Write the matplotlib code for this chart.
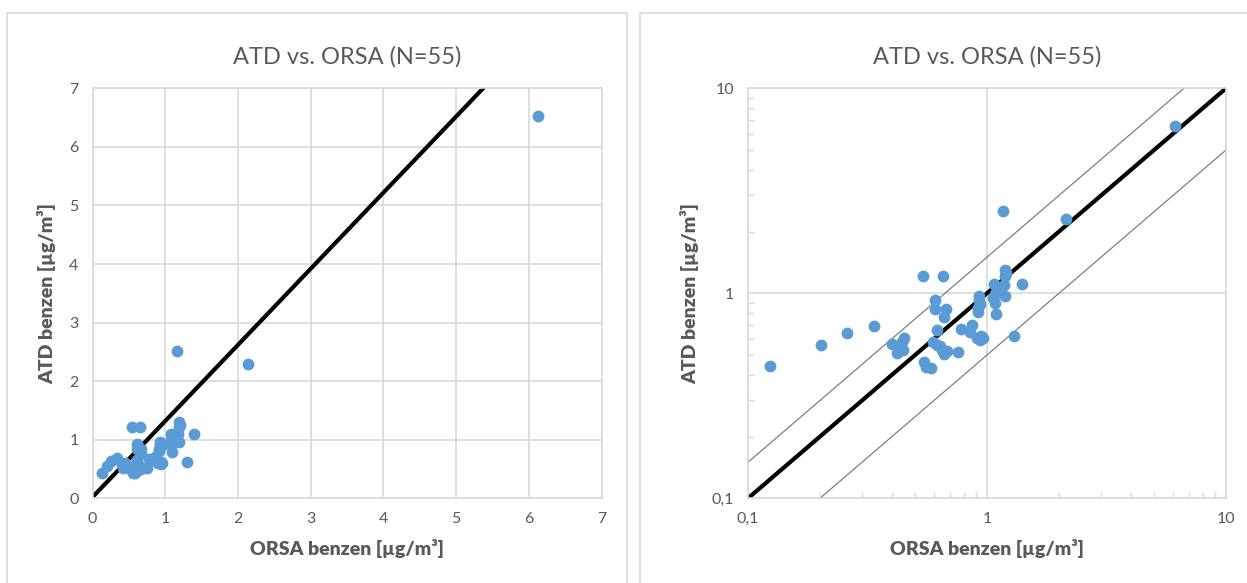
import matplotlib
matplotlib.use("Agg")
import matplotlib.pyplot as plt
from matplotlib.patches import Rectangle
from matplotlib.ticker import FixedLocator, FuncFormatter, LogLocator, NullFormatter
import numpy as np

plt.rcParams['font.family'] = ['Lato', 'DejaVu Sans']

# Data: ORSA benzene (x) vs ATD benzene (y), µg/m³
orsa = [0.124, 0.203, 0.259, 0.337, 0.538, 0.653, 0.402, 0.451, 0.42, 0.447,
        0.43, 0.545, 0.556, 0.581, 0.608, 0.608, 0.673, 0.661, 0.618, 0.596,
        0.636, 0.661, 0.682, 0.754, 0.776, 0.863, 0.85, 0.905, 0.96, 0.935,
        0.926, 0.935, 0.92, 1.074, 1.08, 1.08, 1.09, 1.19, 1.19, 1.178,
        1.19, 1.397, 1.297, 1.167, 2.14, 6.12, 0.62, 0.93, 1.06, 1.10,
        0.92, 1.20, 0.65, 0.44, 0.94]
atd = [0.44, 0.557, 0.638, 0.696, 1.21, 1.21, 0.569, 0.608, 0.512, 0.531,
       0.55, 0.462, 0.437, 0.431, 0.925, 0.838, 0.84, 0.766, 0.66, 0.579,
       0.551, 0.508, 0.521, 0.52, 0.672, 0.698, 0.647, 0.608, 0.608, 0.59,
       0.967, 0.891, 0.811, 1.106, 0.997, 0.897, 0.796, 1.30, 1.21, 1.10,
       0.967, 1.106, 0.617, 2.51, 2.30, 6.53, 0.56, 0.93, 0.95, 1.05,
       0.85, 1.25, 0.53, 0.58, 0.62]

title = "ATD vs. ORSA (N=55)"
xlabel = "ORSA benzen [µg/m³]"
ylabel = "ATD benzen [µg/m³]"

# Left chart trend line (slope, intercept)
trend_slope = 1.3
trend_intercept = 0.02
# Right chart reference lines: ratios
ref_ratios = [1.0, 1.5, 0.5]

DOT = '#5b9bd5'
GRID = '#d9d9d9'
TXT = '#595959'

W, H = 1247, 583
fig = plt.figure(figsize=(W / 100, H / 100), dpi=100)

# panel borders
for (x0, x1) in [(7, 627.5), (640, 1260)]:
    fig.patches.append(Rectangle((x0 / W, -0.1), (x1 - x0) / W, 1.1 - 13 / H,
                                 transform=fig.transFigure, fill=False,
                                 edgecolor=GRID, linewidth=1.2))

def ax_rect(x0, x1, y0, y1):
    return [x0 / W, 1 - y1 / H, (x1 - x0) / W, (y1 - y0) / H]

# ---- left linear chart
ax1 = fig.add_axes(ax_rect(92.5, 601.7, 88.3, 498.3))
ax1.set_xlim(0, 7)
ax1.set_ylim(0, 7)
ax1.set_xticks(range(0, 8))
ax1.set_yticks(range(0, 8))
ax1.grid(True, color=GRID, linewidth=1.2)
ax1.set_axisbelow(True)
xs = np.array([0, 7])
ax1.plot(xs, trend_slope * xs + trend_intercept, color='black', linewidth=3, zorder=2)
ax1.scatter(orsa, atd, s=72, color=DOT, zorder=3, linewidths=0)

# ---- right log chart
ax2 = fig.add_axes(ax_rect(748, 1226, 88.3, 498.3))
ax2.set_xscale('log')
ax2.set_yscale('log')
ax2.set_xlim(0.1, 10)
ax2.set_ylim(0.1, 10)
fmt = FuncFormatter(lambda v, p: ('%g' % v).replace('.', ','))
for a in (ax2.xaxis, ax2.yaxis):
    a.set_major_locator(FixedLocator([0.1, 1, 10]))
    a.set_major_formatter(fmt)
    a.set_minor_locator(LogLocator(base=10, subs=np.arange(2, 10)))
    a.set_minor_formatter(NullFormatter())
ax2.grid(True, which='major', color=GRID, linewidth=1.2)
ax2.set_axisbelow(True)
xs2 = np.array([0.05, 20])
for r in ref_ratios:
    if r == 1.0:
        ax2.plot(xs2, r * xs2, color='black', linewidth=3, zorder=2)
    else:
        ax2.plot(xs2, r * xs2, color='#7f7f7f', linewidth=0.9, zorder=2)
ax2.scatter(orsa, atd, s=72, color=DOT, zorder=3, linewidths=0)

for ax in (ax1, ax2):
    for sp in ax.spines.values():
        sp.set_color(GRID)
        sp.set_linewidth(1.2)
    ax.tick_params(which='major', length=0, labelsize=11.5, labelcolor=TXT, pad=10)
    ax.tick_params(which='minor', direction='in', length=4, color=GRID, width=1)
    ax.set_title(title, fontsize=17, color=TXT, pad=18)
    ax.set_xlabel(xlabel, fontsize=14, fontweight='heavy', color=TXT, labelpad=9)
    ax.set_ylabel(ylabel, fontsize=14, fontweight='heavy', color=TXT, labelpad=9)

fig.savefig('out.png', dpi=100)
